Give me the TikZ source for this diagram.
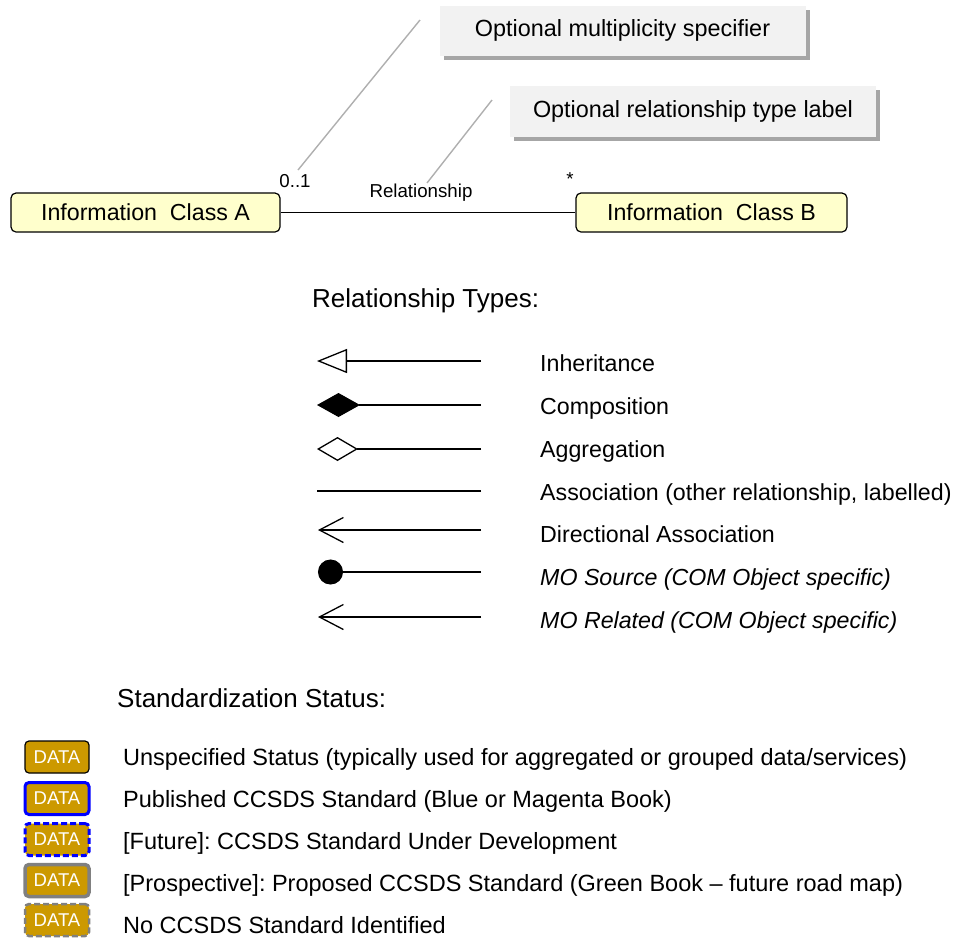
\documentclass[tikz,border=0pt]{standalone}
\usepackage{fontspec}
\setmainfont{Liberation Sans}
\usetikzlibrary{arrows.meta,shadows}
\frenchspacing
\definecolor{classfill}{RGB}{255,255,204}
\definecolor{callfill}{RGB}{242,242,242}
\definecolor{leadgray}{RGB}{175,175,175}
\definecolor{datagold}{RGB}{204,153,0}
\definecolor{stdblue}{RGB}{0,0,255}
\definecolor{stdgray}{RGB}{128,128,128}
\newcommand\fsTitle{\fontsize{26}{31}\selectfont}
\newcommand\fsBody{\fontsize{23.2}{27}\selectfont}
\newcommand\fsLow{\fontsize{23.5}{27}\selectfont}
\newcommand\fsCall{\fontsize{23.4}{27}\selectfont}
\newcommand\fsSmall{\fontsize{18.7}{22}\selectfont}
\newcommand\fsData{\fontsize{18.5}{22}\selectfont}
\begin{document}
\begin{tikzpicture}[x=1pt,y=-1pt,
  classbox/.style={draw=black, line width=1.2pt, fill=classfill, rounded corners=5pt,
    minimum height=39pt, inner sep=0pt, font=\fsBody},
  callout/.style={fill=callfill, inner sep=0pt, minimum height=50pt, minimum width=366pt,
    font=\fsCall, drop shadow={shadow xshift=4pt, shadow yshift=-4pt, fill=black, opacity=0.35}},
  leader/.style={draw=leadgray, line width=1.4pt},
  smalllbl/.style={font=\fsSmall, inner sep=0pt},
  legtxt/.style={font=\fsBody, anchor=base west, inner sep=0pt},
  lowtxt/.style={font=\fsLow, anchor=base west, inner sep=0pt},
  legline/.style={draw=black, line width=1.3pt},
  databox/.style={fill=datagold, rounded corners=4pt, minimum width=64pt, minimum height=32pt,
    inner sep=0pt, text=white, font=\fsData},
]
\useasboundingbox (0,0) rectangle (956,938);

% callouts
\node[callout] (c1) at (622.5,30.5) {Optional multiplicity specifier};
\node[callout, minimum height=51pt] (c2) at (693,111.5) {Optional relationship type label};

% classes
\node[classbox, minimum width=269pt] (A) at (145.5,212.5) {Information\ \ Class A};
\node[classbox, minimum width=271pt] (B) at (711.5,212.5) {Information\ \ Class B};
\draw[line width=1.2pt] (A.east) -- (B.west);

\node[smalllbl] (mA) at (295,181) {0..1};
\node[smalllbl] (rel) at (421,193) {Relationship};
\node[smalllbl] (mB) at (570,179) {*};

% leader lines
\coordinate (l1a) at (420,20);
\coordinate (l1b) at (298,170);
\coordinate (l2a) at (492,100);
\coordinate (l2b) at (427,183);
\draw[leader] (l1a) -- (l1b);
\draw[leader] (l2a) -- (l2b);

% relationship types
\node[font=\fsTitle, anchor=base west, inner sep=0pt] (rt) at (312,307) {Relationship Types:};

\coordinate (i1) at (317,361); \coordinate (i2) at (481,361);
\draw[legline, -{Triangle[open, length=30pt, width=24pt, line width=1.3pt]}] (i2) -- (i1);
\coordinate (k1) at (317,405); \coordinate (k2) at (481,405);
\draw[legline, -{Diamond[length=43pt, width=24pt]}] (k2) -- (k1);
\coordinate (g1) at (317,449); \coordinate (g2) at (481,449);
\draw[legline, -{Diamond[open, length=41pt, width=24pt, line width=1.3pt]}] (g2) -- (g1);
\coordinate (s1) at (317,491); \coordinate (s2) at (481,491);
\draw[legline] (s2) -- (s1);
\coordinate (d1) at (318,530); \coordinate (d2) at (481,530);
\draw[legline, -{Straight Barb[length=24pt, width=25pt, line width=1.3pt]}] (d2) -- (d1);
\coordinate (o1) at (318,572); \coordinate (o2) at (481,572);
\draw[legline, -{Circle[length=25pt]}] (o2) -- (o1);
\coordinate (r1) at (318,617); \coordinate (r2) at (481,617);
\draw[legline, -{Straight Barb[length=24pt, width=25pt, line width=1.3pt]}] (r2) -- (r1);

\node[legtxt] (t1) at (540,371) {Inheritance};
\node[legtxt] (t2) at (540,414) {Composition};
\node[legtxt] (t3) at (540,457) {Aggregation};
\node[legtxt] (t4) at (540,500) {Association (other relationship, labelled)};
\node[legtxt] (t5) at (540,542) {Directional Association};
\node[legtxt] (t6) at (540,585) {\itshape MO Source (COM Object specific)};
\node[legtxt] (t7) at (540,628) {\itshape MO Related (COM Object specific)};

% standardization status
\node[font=\fsTitle, anchor=base west, inner sep=0pt] (ss) at (117,707) {Standardization Status:};

\node[databox, draw=black, line width=1.2pt] (b1) at (57,757) {DATA};
\node[databox, draw=stdblue, line width=3pt] (b2) at (57,798.5) {DATA};
\node[databox, draw=stdblue, line width=3pt, dash pattern=on 6pt off 3pt] (b3) at (57,839.5) {DATA};
\node[databox, draw=stdgray, line width=3.5pt] (b4) at (57,880.5) {DATA};
\node[databox, draw=stdgray, line width=2.5pt, dash pattern=on 6pt off 3pt] (b5) at (57,920) {DATA};

\node[lowtxt] (u1) at (123,765) {Unspecified Status (typically used for aggregated or grouped data/services)};
\node[lowtxt] (u2) at (123,807) {Published CCSDS Standard (Blue or Magenta Book)};
\node[lowtxt] (u3) at (123,849) {[Future]: CCSDS Standard Under Development};
\node[lowtxt] (u4) at (123,891) {[Prospective]: Proposed CCSDS Standard (Green Book -- future road map)};
\node[lowtxt] (u5) at (123,933) {No CCSDS Standard Identified};
\end{tikzpicture}
\end{document}
